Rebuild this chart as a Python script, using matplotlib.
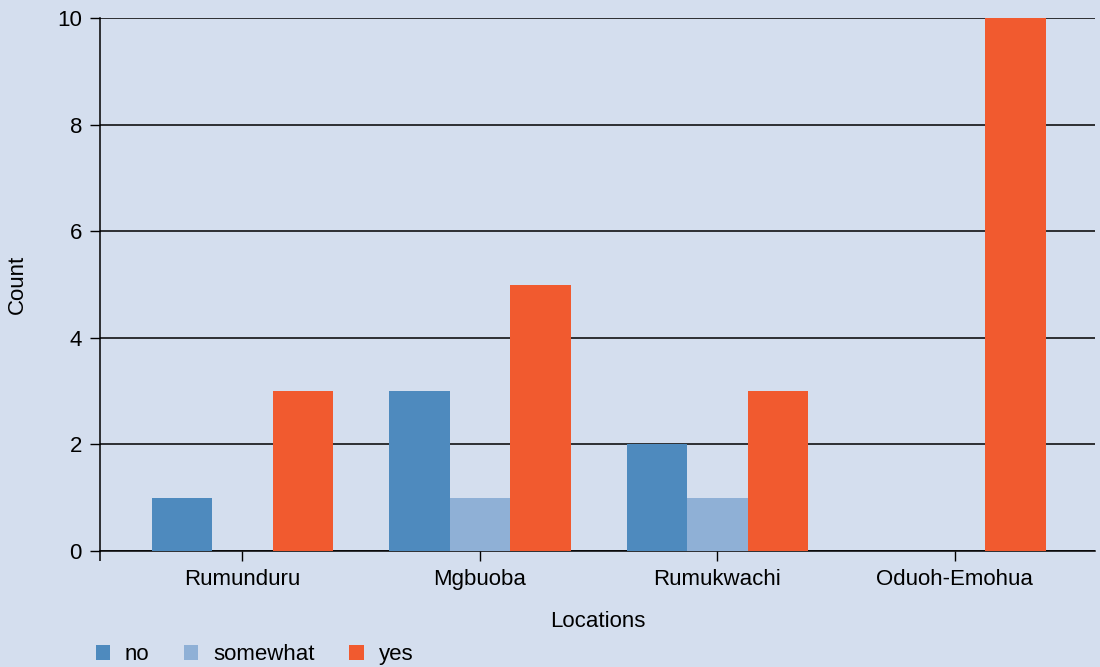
import numpy as np
import matplotlib.pyplot as plt
from matplotlib.patches import Patch

# data
locations = ['Rumunduru', 'Mgbuoba', 'Rumukwachi', 'Oduoh-Emohua']
series = ['no', 'somewhat', 'yes']
no_vals = [1, 3, 2, 0]
somewhat_vals = [0, 1, 1, 0]
yes_vals = [3, 5, 3, 10]
y_ticks = [0, 2, 4, 6, 8, 10]

colors = {'no': '#4e8abe', 'somewhat': '#8fb0d6', 'yes': '#f15a2f'}
bg = '#d4deee'

plt.rcParams['font.family'] = ['Liberation Sans', 'DejaVu Sans']

fig = plt.figure(figsize=(11, 6.67), dpi=100, facecolor=bg)
ax = fig.add_axes([100 / 1100, 1 - 551 / 667, 995 / 1100, 533 / 667])
ax.set_facecolor(bg)

x = np.arange(len(locations))
w = 0.255
for k, (name, vals) in enumerate(zip(series, [no_vals, somewhat_vals, yes_vals])):
    ax.bar(x + (k - 1) * w, vals, width=w, color=colors[name], zorder=3, label=name)

ax.set_xlim(-0.6, 3.59)
ax.set_ylim(0, 10)
ax.set_yticks(y_ticks)
ax.set_xticks(x)
ax.set_xticklabels(locations)
# little tick under the left spine
ax.set_xticks([-0.6], minor=True)

ax.yaxis.grid(True, color='black', linewidth=1.1, zorder=1)
for s in ['top', 'right']:
    ax.spines[s].set_visible(False)
for s in ['left', 'bottom']:
    ax.spines[s].set_color('black')
    ax.spines[s].set_linewidth(1.1)
ax.tick_params(axis='both', labelsize=16, colors='black', length=7, width=1)
ax.tick_params(axis='x', pad=6)
ax.tick_params(axis='y', pad=6)
ax.tick_params(axis='x', which='minor', length=7, width=1.1, colors='black')

ax.set_xlabel('Locations', fontsize=16, labelpad=15)
ax.set_ylabel('Count', fontsize=16)
ax.yaxis.set_label_coords(-0.072, 0.5)

handles = [Patch(facecolor=colors[n], label=n) for n in series]
fig.legend(handles=handles, loc='center left', bbox_to_anchor=(0.087, 0.018), ncol=3,
           frameon=False, fontsize=16, handlelength=0.64, handleheight=0.64,
           handletextpad=0.68, columnspacing=1.55, borderpad=0, borderaxespad=0)

fig.savefig('out.png', dpi=100, facecolor=bg)
